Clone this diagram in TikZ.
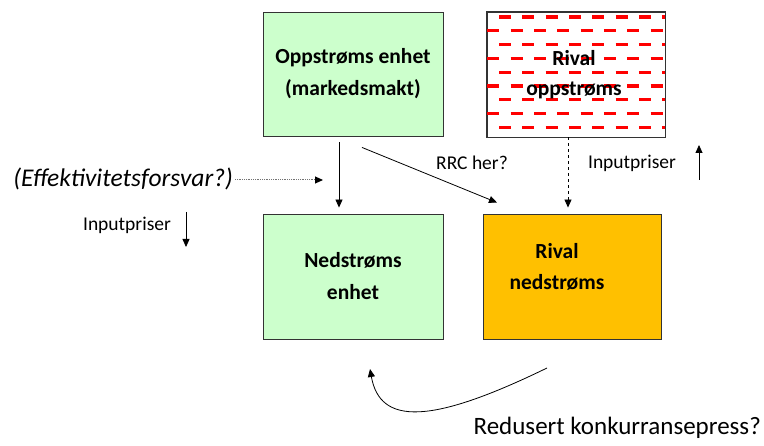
\documentclass[tikz,border=0pt]{standalone}
\usepackage{fontspec}
\setmainfont{Carlito}
\usetikzlibrary{arrows.meta}
\definecolor{lgreen}{RGB}{204,255,204}
\definecolor{gold}{RGB}{255,192,0}
\definecolor{hatchred}{RGB}{255,0,0}
\tikzset{
  boxnode/.style={draw=black!80, line width=0.9pt, minimum width=180pt, minimum height=124pt, inner sep=0pt, font=\fontsize{21.5}{32}\selectfont\bfseries, align=center},
  lbl/.style={inner sep=0pt, font=\fontsize{19.5}{22}\selectfont},
  arr/.style={line width=0.8pt, -{Triangle[length=8pt,width=7pt,color=black,fill=black]}},
}
\begin{document}
\begin{tikzpicture}[x=1pt,y=-1pt]
\useasboundingbox (0,0) rectangle (764,446);
% boxes
\node[boxnode, fill=lgreen] (up) at (353,74) {Oppstrøms enhet\\(markedsmakt)};
\node[boxnode, fill=white, minimum width=178pt, minimum height=125pt] (rivup) at (576,74.5) {};
\begin{scope}
  \clip (rivup.south west) rectangle (rivup.north east);
  \foreach \k in {0,...,8} {
    \pgfmathsetmacro\yy{17+13.8*\k}
    \pgfmathsetmacro\xx{499-11.6*mod(\k,2)}
    \draw[hatchred, line width=3.2pt, dash pattern=on 12pt off 11.3pt] (\xx,\yy) -- (700,\yy);
  }
\end{scope}
\draw[draw=black!80, line width=0.9pt] (rivup.south west) rectangle (rivup.north east);
\node[inner sep=0pt, align=center, font=\fontsize{21.5}{30}\selectfont\bfseries] (rivuptxt) at (574,75) {Rival\\oppstrøms};
\node[boxnode, fill=lgreen, minimum height=125pt] (down) at (353,276.5) {Nedstrøms\\enhet};
\node[boxnode, fill=gold, minimum width=178pt, minimum height=125pt] (rivdown) at (572,276.5) {};
\node[inner sep=0pt, align=center, font=\fontsize{21.5}{31}\selectfont\bfseries] (rivdowntxt) at (557,267) {Rival\\nedstrøms};
% arrows between boxes
\draw[arr] ([xshift=-14pt,yshift=-6pt]up.south) -- ([xshift=-14pt,yshift=6pt]down.north);
\draw[arr] ([xshift=9pt,yshift=-11pt]up.south) -- ([xshift=-75pt,yshift=11pt]rivdown.north);
\draw[arr, dashed] ([xshift=-8pt]rivup.south) -- ([xshift=-4pt,yshift=6pt]rivdown.north);
% labels
\node[lbl] (rrc) at (472,163) {RRC her?};
\node[lbl] (inpr) at (632,163) {Inputpriser};
\coordinate (upa) at (699,180);
\coordinate (upb) at (699,145);
\draw[arr] (upa) -- (upb);
\node[lbl] (inpl) at (127,225) {Inputpriser};
\coordinate (dna) at (186,212);
\coordinate (dnb) at (186,247);
\draw[arr] (dna) -- (dnb);
\node[inner sep=0pt, font=\fontsize{25.5}{28}\selectfont\itshape, anchor=east] (eff) at (233,179) {(Effektivitetsforsvar?)};
\coordinate (effend) at (323,180);
\draw[arr, draw=black!55, dash pattern=on 1pt off 0.8pt, line width=1pt] ([xshift=2pt]eff.east |- effend) -- (effend);
% curved arrow
\node[inner sep=0pt, font=\fontsize{25}{28}\selectfont, anchor=east] (red) at (761,428) {Redusert konkurransepress?};
\coordinate (cs) at (547,368);
\coordinate (ce) at (370,369);
\draw[arr] (cs) .. controls (430,425) and (380,425) .. (ce);
\end{tikzpicture}
\end{document}
